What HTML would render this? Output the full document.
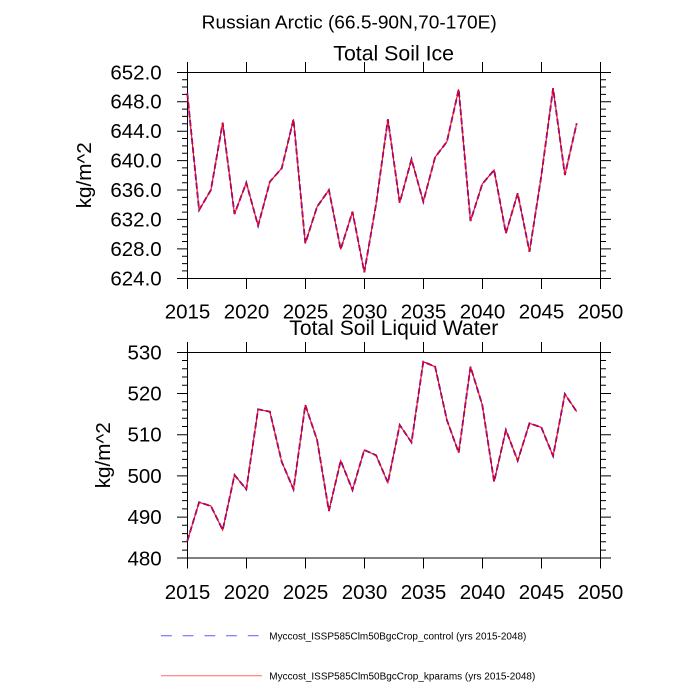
<!DOCTYPE html>
<html><head><meta charset="utf-8"><style>
html,body{margin:0;padding:0;background:#fff;}
svg{display:block;}
text{font-family:"Liberation Sans",Arial,sans-serif;fill:#000;}
</style></head><body>
<svg width="700" height="700" viewBox="0 0 700 700" xmlns="http://www.w3.org/2000/svg">
<rect width="700" height="700" fill="#fff"/>
<!-- Main title -->
<text x="201.7" y="28.3" font-size="18.8" textLength="295" lengthAdjust="spacingAndGlyphs">Russian Arctic (66.5-90N,70-170E)</text>

<!-- ===== TOP PLOT ===== -->
<text x="333.3" y="60.7" font-size="21" textLength="120.7" lengthAdjust="spacingAndGlyphs">Total Soil Ice</text>
<rect x="187.5" y="72.5" width="413" height="206" fill="none" stroke="#000" stroke-width="1"/>
<!-- x ticks top plot -->
<path stroke="#000" stroke-width="1" fill="none" d="
M187.5 72.5V62 M246.5 72.5V62 M305.5 72.5V62 M364.5 72.5V62 M423.5 72.5V62 M482.5 72.5V62 M541.5 72.5V62 M600.5 72.5V62
M187.5 278.5V289 M246.5 278.5V289 M305.5 278.5V289 M364.5 278.5V289 M423.5 278.5V289 M482.5 278.5V289 M541.5 278.5V289 M600.5 278.5V289"/>
<!-- y major ticks top -->
<path stroke="#000" stroke-width="1" fill="none" d="
M177 72.5H187.5 M177 101.7H187.5 M177 131.2H187.5 M177 160.6H187.5 M177 190H187.5 M177 219.4H187.5 M177 248.9H187.5 M177 278.5H187.5
M600.5 72.5H611 M600.5 101.7H611 M600.5 131.2H611 M600.5 160.6H611 M600.5 190H611 M600.5 219.4H611 M600.5 248.9H611 M600.5 278.5H611"/>
<!-- y minor ticks top -->
<path stroke="#000" stroke-width="1" fill="none" d="
M182 79.7H187.5 M182 87H187.5 M182 94.4H187.5 M182 109.1H187.5 M182 116.4H187.5 M182 123.8H187.5 M182 138.5H187.5 M182 145.9H187.5 M182 153.2H187.5 M182 167.9H187.5 M182 175.3H187.5 M182 182.7H187.5 M182 197.4H187.5 M182 204.7H187.5 M182 212.1H187.5 M182 226.8H187.5 M182 234.2H187.5 M182 241.5H187.5 M182 256.2H187.5 M182 263.6H187.5 M182 270.9H187.5
M600.5 79.7H606 M600.5 87H606 M600.5 94.4H606 M600.5 109.1H606 M600.5 116.4H606 M600.5 123.8H606 M600.5 138.5H606 M600.5 145.9H606 M600.5 153.2H606 M600.5 167.9H606 M600.5 175.3H606 M600.5 182.7H606 M600.5 197.4H606 M600.5 204.7H606 M600.5 212.1H606 M600.5 226.8H606 M600.5 234.2H606 M600.5 241.5H606 M600.5 256.2H606 M600.5 263.6H606 M600.5 270.9H606"/>
<!-- y labels top -->
<g font-size="20.5" text-anchor="end">
<text x="161.7" y="79.3">652.0</text>
<text x="161.7" y="108.7">648.0</text>
<text x="161.7" y="138.2">644.0</text>
<text x="161.7" y="167.6">640.0</text>
<text x="161.7" y="197">636.0</text>
<text x="161.7" y="226.4">632.0</text>
<text x="161.7" y="255.9">628.0</text>
<text x="161.7" y="285.3">624.0</text>
</g>
<!-- x labels top -->
<g font-size="20.5" text-anchor="middle">
<text x="187.5" y="318.3">2015</text>
<text x="246.5" y="318.3">2020</text>
<text x="305.5" y="318.3">2025</text>
<text x="364.5" y="318.3">2030</text>
<text x="423.5" y="318.3">2035</text>
<text x="482.5" y="318.3">2040</text>
<text x="541.5" y="318.3">2045</text>
<text x="600.5" y="318.3">2050</text>
</g>
<text transform="translate(91,175.3) rotate(-90)" font-size="20" text-anchor="middle" textLength="66" lengthAdjust="spacingAndGlyphs">kg/m^2</text>
<!-- series top -->
<polyline fill="none" stroke="#0000ff" stroke-width="1.8" stroke-dasharray="6 3" points="187.3,93.3 199.1,210 210.9,190 222.7,122.7 234.5,214 246.3,182.7 258.1,225.7 269.9,181.7 281.7,168.3 293.5,119.3 305.3,243.3 317.1,206.7 328.9,190 340.7,249.3 352.5,211.7 364.3,272.3 376.1,204 387.9,119.3 399.7,202.7 411.5,159.3 423.3,201.7 435.1,157.3 446.9,141.7 458.7,89.3 470.5,221 482.3,184 494.1,170 505.9,233.3 517.7,193.3 529.5,251.7 541.3,176 553.1,88.3 564.9,175 576.7,123.3"/>
<polyline fill="none" stroke="#ff0000" stroke-width="1.1" points="187.3,93.3 199.1,210 210.9,190 222.7,122.7 234.5,214 246.3,182.7 258.1,225.7 269.9,181.7 281.7,168.3 293.5,119.3 305.3,243.3 317.1,206.7 328.9,190 340.7,249.3 352.5,211.7 364.3,272.3 376.1,204 387.9,119.3 399.7,202.7 411.5,159.3 423.3,201.7 435.1,157.3 446.9,141.7 458.7,89.3 470.5,221 482.3,184 494.1,170 505.9,233.3 517.7,193.3 529.5,251.7 541.3,176 553.1,88.3 564.9,175 576.7,123.3"/>

<!-- ===== BOTTOM PLOT ===== -->
<text x="289.3" y="335" font-size="21" textLength="209" lengthAdjust="spacingAndGlyphs">Total Soil Liquid Water</text>
<rect x="187.5" y="352.5" width="413" height="205.5" fill="none" stroke="#000" stroke-width="1"/>
<path stroke="#000" stroke-width="1" fill="none" d="
M187.5 352.5V342 M246.5 352.5V342 M305.5 352.5V342 M364.5 352.5V342 M423.5 352.5V342 M482.5 352.5V342 M541.5 352.5V342 M600.5 352.5V342
M187.5 558V568.5 M246.5 558V568.5 M305.5 558V568.5 M364.5 558V568.5 M423.5 558V568.5 M482.5 558V568.5 M541.5 558V568.5 M600.5 558V568.5"/>
<path stroke="#000" stroke-width="1" fill="none" d="
M177 352.5H187.5 M177 393.5H187.5 M177 434.7H187.5 M177 475.9H187.5 M177 517.1H187.5 M177 558H187.5
M600.5 352.5H611 M600.5 393.5H611 M600.5 434.7H611 M600.5 475.9H611 M600.5 517.1H611 M600.5 558H611"/>
<path stroke="#000" stroke-width="1" fill="none" d="
M182 360.5H187.5 M182 368.8H187.5 M182 377H187.5 M182 385.3H187.5 M182 401.7H187.5 M182 410H187.5 M182 418.2H187.5 M182 426.5H187.5 M182 442.9H187.5 M182 451.2H187.5 M182 459.4H187.5 M182 467.7H187.5 M182 484.1H187.5 M182 492.4H187.5 M182 500.6H187.5 M182 508.9H187.5 M182 525.3H187.5 M182 533.6H187.5 M182 541.8H187.5 M182 550.1H187.5
M600.5 360.5H606 M600.5 368.8H606 M600.5 377H606 M600.5 385.3H606 M600.5 401.7H606 M600.5 410H606 M600.5 418.2H606 M600.5 426.5H606 M600.5 442.9H606 M600.5 451.2H606 M600.5 459.4H606 M600.5 467.7H606 M600.5 484.1H606 M600.5 492.4H606 M600.5 500.6H606 M600.5 508.9H606 M600.5 525.3H606 M600.5 533.6H606 M600.5 541.8H606 M600.5 550.1H606"/>
<g font-size="20.5" text-anchor="end">
<text x="161.7" y="359.3">530</text>
<text x="161.7" y="400.5">520</text>
<text x="161.7" y="441.7">510</text>
<text x="161.7" y="482.9">500</text>
<text x="161.7" y="524.1">490</text>
<text x="161.7" y="565.3">480</text>
</g>
<g font-size="20.5" text-anchor="middle">
<text x="187.5" y="599">2015</text>
<text x="246.5" y="599">2020</text>
<text x="305.5" y="599">2025</text>
<text x="364.5" y="599">2030</text>
<text x="423.5" y="599">2035</text>
<text x="482.5" y="599">2040</text>
<text x="541.5" y="599">2045</text>
<text x="600.5" y="599">2050</text>
</g>
<text transform="translate(110,455.3) rotate(-90)" font-size="20" text-anchor="middle" textLength="66" lengthAdjust="spacingAndGlyphs">kg/m^2</text>
<polyline fill="none" stroke="#0000ff" stroke-width="1.8" stroke-dasharray="6 3" points="187.3,541 199.1,502.3 210.9,506 222.7,530 234.5,475 246.3,489.3 258.1,409.3 269.9,411.7 281.7,461.7 293.5,489.3 305.3,405 317.1,440 328.9,511 340.7,460.7 352.5,490 364.3,450 376.1,455.3 387.9,482.7 399.7,425 411.5,442.3 423.3,361.7 435.1,366.7 446.9,420 458.7,452.7 470.5,366.7 482.3,405 494.1,481.7 505.9,430 517.7,460.7 529.5,423.3 541.3,427.3 553.1,456 564.9,394 576.7,411.7"/>
<polyline fill="none" stroke="#ff0000" stroke-width="1.1" points="187.3,541 199.1,502.3 210.9,506 222.7,530 234.5,475 246.3,489.3 258.1,409.3 269.9,411.7 281.7,461.7 293.5,489.3 305.3,405 317.1,440 328.9,511 340.7,460.7 352.5,490 364.3,450 376.1,455.3 387.9,482.7 399.7,425 411.5,442.3 423.3,361.7 435.1,366.7 446.9,420 458.7,452.7 470.5,366.7 482.3,405 494.1,481.7 505.9,430 517.7,460.7 529.5,423.3 541.3,427.3 553.1,456 564.9,394 576.7,411.7"/>

<!-- ===== LEGEND ===== -->
<line x1="161" y1="635.7" x2="262" y2="635.7" stroke="#5a5aff" stroke-width="1" stroke-dasharray="10.8 10.9"/>
<text x="269.3" y="639.3" font-size="10" textLength="257" lengthAdjust="spacingAndGlyphs">Myccost_ISSP585Clm50BgcCrop_control (yrs 2015-2048)</text>
<line x1="161" y1="675.7" x2="262" y2="675.7" stroke="#ff6a6a" stroke-width="1"/>
<text x="269.3" y="679.3" font-size="10" textLength="266" lengthAdjust="spacingAndGlyphs">Myccost_ISSP585Clm50BgcCrop_kparams (yrs 2015-2048)</text>
</svg>
</body></html>
